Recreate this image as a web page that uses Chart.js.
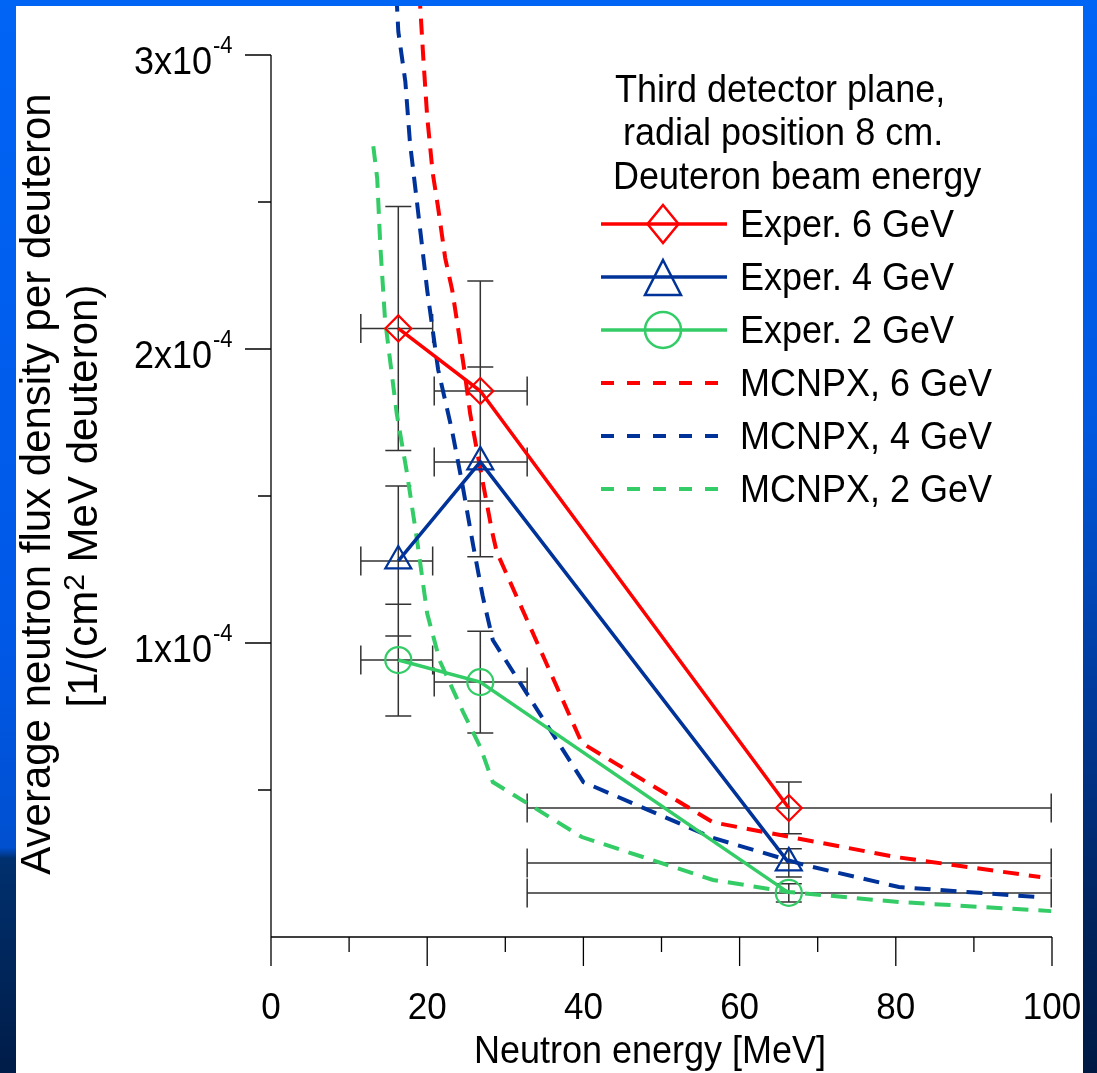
<!DOCTYPE html>
<html>
<head>
<meta charset="utf-8">
<script src="https://cdn.jsdelivr.net/npm/chart.js@4.4.0/dist/chart.umd.min.js"></script>
<style>
  html, body { margin: 0; padding: 0; }
  body {
    width: 1097px; height: 1073px; overflow: hidden; position: relative;
    background: linear-gradient(to bottom, #0064f5 0%, #0058e0 40%, #003a9a 65%, #00245e 85%, #001a44 100%);
  }
  #leftStrip {
    position: absolute; left: 0; top: 0; width: 16px; height: 1073px;
    background: linear-gradient(to bottom, #0064f5 0%, #0058e6 60%, #0050d0 79%, #00306e 80%, #001c48 100%);
  }
  #panel { position: absolute; left: 16px; top: 6px; width: 1067px; height: 1067px; background: #fff; }
  canvas { display: block; }
</style>
</head>
<body>
<div id="leftStrip"></div>
<div id="panel"><canvas id="chart" width="1067" height="1067"></canvas></div>
<script>
// experimental points (energy in MeV, flux in 1/(cm2 MeV deuteron))
const expEnergy = [16.3, 26.8, 66.3];
const expEnergyLow = [11.5, 20.9, 32.8];
const expEnergyHigh = [20.7, 32.8, 99.9];

const exp6Flux = [2.07e-4, 1.857e-4, 0.439e-4];
const exp6Err = [0.415e-4, 0.374e-4, 0.088e-4];
const exp4Flux = [1.279e-4, 1.616e-4, 0.252e-4];
const exp4Err = [0.255e-4, 0.323e-4, 0.048e-4];
const exp2Flux = [0.942e-4, 0.867e-4, 0.150e-4];
const exp2Err = [0.19e-4, 0.173e-4, 0.031e-4];

// MCNPX calculations
const mcnpx6Energy = [18.8, 19.5, 20.0, 20.7, 21.4, 22.3, 23.2, 23.9, 24.8, 25.5, 26.4, 27.1, 28.3, 28.9, 39.8, 56.6, 80.0, 98.5];
const mcnpx6Flux = [3.30e-4, 2.99e-4, 2.79e-4, 2.60e-4, 2.48e-4, 2.31e-4, 2.20e-4, 2.08e-4, 1.92e-4, 1.78e-4, 1.65e-4, 1.55e-4, 1.38e-4, 1.31e-4, 0.66e-4, 0.39e-4, 0.272e-4, 0.204e-4];
const mcnpx4Energy = [15.9, 16.3, 17.2, 17.8, 18.6, 20.0, 21.4, 23.2, 24.5, 25.9, 27.1, 28.4, 40.0, 56.6, 68.3, 80.4, 98.0];
const mcnpx4Flux = [3.29e-4, 3.08e-4, 2.91e-4, 2.70e-4, 2.52e-4, 2.20e-4, 1.93e-4, 1.72e-4, 1.54e-4, 1.33e-4, 1.16e-4, 1.01e-4, 0.527e-4, 0.337e-4, 0.245e-4, 0.170e-4, 0.136e-4];
const mcnpx2Energy = [13.1, 13.6, 14.0, 14.6, 16.1, 17.4, 18.7, 20.0, 21.6, 24.6, 26.8, 28.4, 39.8, 56.6, 66.3, 80.4, 99.9];
const mcnpx2Flux = [2.69e-4, 2.58e-4, 2.35e-4, 2.10e-4, 1.78e-4, 1.58e-4, 1.35e-4, 1.10e-4, 0.94e-4, 0.765e-4, 0.646e-4, 0.527e-4, 0.340e-4, 0.194e-4, 0.153e-4, 0.119e-4, 0.088e-4];

// axes
const xMajorTicks = [0, 20, 40, 60, 80, 100];
const xMinorTicks = [10, 30, 50, 70, 90];
const yMajorTicks = [1e-4, 2e-4, 3e-4];
const yTickMantissa = ["1", "2", "3"];
const yTickExponent = "-4";
const yMinorTicks = [0.5e-4, 1.5e-4, 2.5e-4];

const legendTitle = ["Third detector plane,", "radial position 8 cm.", "Deuteron beam energy"];
const xTitle = "Neutron energy [MeV]";
const yTitle1 = "Average neutron flux density per deuteron";

const RED = "#ff0000";
const BLUE = "#003399";
const GREEN = "#33cc66";
const FONT = '"Liberation Sans", Arial, sans-serif';

function toPoints(xs, ys) {
  return xs.map((x, i) => ({ x: x, y: ys[i] }));
}

function expSet(label, flux, color, style, radius) {
  return {
    label: label,
    data: toPoints(expEnergy, flux),
    showLine: true,
    borderColor: color,
    borderWidth: 3.5,
    pointStyle: style,
    pointRadius: radius,
    pointBorderWidth: 2.2,
    pointBorderColor: color,
    pointBackgroundColor: "rgba(0,0,0,0)",
    clip: false,
  };
}

function mcnpxSet(label, xs, ys, color) {
  return {
    label: label,
    data: toPoints(xs, ys),
    showLine: true,
    borderColor: color,
    borderWidth: 4,
    borderDash: [16, 10],
    pointRadius: 0,
    clip: false,
  };
}

// 文字を少し縦長にして描く
function stretchText(ctx, str, x, y, align) {
  ctx.save();
  ctx.translate(x, y);
  ctx.scale(1, 1.08);
  ctx.textAlign = align;
  ctx.fillText(str, 0, 0);
  ctx.restore();
}

const errorBars = [
  { flux: exp6Flux, err: exp6Err },
  { flux: exp4Flux, err: exp4Err },
  { flux: exp2Flux, err: exp2Err },
];

const framePlugin = {
  id: "frame",
  beforeDatasetsDraw(chart) {
    const ctx = chart.ctx;
    const xs = chart.scales.x;
    const ys = chart.scales.y;
    const x0 = xs.getPixelForValue(0);
    const y0 = ys.getPixelForValue(0);

    ctx.save();
    ctx.strokeStyle = "#000";
    ctx.lineWidth = 1.3;
    ctx.beginPath();
    // y axis
    ctx.moveTo(x0, ys.getPixelForValue(3e-4));
    ctx.lineTo(x0, y0 + 29);
    // x axis
    ctx.moveTo(x0, y0);
    ctx.lineTo(xs.getPixelForValue(100), y0);
    xMajorTicks.forEach((v) => {
      const px = xs.getPixelForValue(v);
      ctx.moveTo(px, y0);
      ctx.lineTo(px, y0 + 29);
    });
    xMinorTicks.forEach((v) => {
      const px = xs.getPixelForValue(v);
      ctx.moveTo(px, y0);
      ctx.lineTo(px, y0 + 15);
    });
    yMajorTicks.forEach((v) => {
      const py = ys.getPixelForValue(v);
      ctx.moveTo(x0 - 26, py);
      ctx.lineTo(x0, py);
    });
    yMinorTicks.forEach((v) => {
      const py = ys.getPixelForValue(v);
      ctx.moveTo(x0 - 13, py);
      ctx.lineTo(x0, py);
    });
    ctx.stroke();

    // error bars
    ctx.strokeStyle = "#333";
    ctx.lineWidth = 1.5;
    ctx.beginPath();
    errorBars.forEach((s) => {
      s.flux.forEach((f, i) => {
        const px = xs.getPixelForValue(expEnergy[i]);
        const py = ys.getPixelForValue(f);
        const top = ys.getPixelForValue(f + s.err[i]);
        const bot = ys.getPixelForValue(f - s.err[i]);
        ctx.moveTo(px, top);
        ctx.lineTo(px, bot);
        ctx.moveTo(px - 13, top);
        ctx.lineTo(px + 13, top);
        ctx.moveTo(px - 13, bot);
        ctx.lineTo(px + 13, bot);
        const l = xs.getPixelForValue(expEnergyLow[i]);
        const r = xs.getPixelForValue(expEnergyHigh[i]);
        ctx.moveTo(l, py);
        ctx.lineTo(r, py);
        ctx.moveTo(l, py - 14.5);
        ctx.lineTo(l, py + 14.5);
        ctx.moveTo(r, py - 14.5);
        ctx.lineTo(r, py + 14.5);
      });
    });
    ctx.stroke();
    ctx.restore();
  },
  afterDraw(chart) {
    const ctx = chart.ctx;
    const xs = chart.scales.x;
    const ys = chart.scales.y;
    const x0 = xs.getPixelForValue(0);
    const y0 = ys.getPixelForValue(0);
    ctx.save();
    ctx.fillStyle = "#000";
    ctx.textBaseline = "alphabetic";

    // y tick labels
    yMajorTicks.forEach((v, i) => {
      const py = ys.getPixelForValue(v);
      ctx.font = "36px " + FONT;
      stretchText(ctx, yTickMantissa[i] + "x10", x0 - 59, py + 18.5, "right");
      ctx.font = "22px " + FONT;
      stretchText(ctx, yTickExponent, x0 - 58, py - 2, "left");
    });

    // x tick labels
    ctx.font = "35px " + FONT;
    xMajorTicks.forEach((v) => {
      stretchText(ctx, String(v), xs.getPixelForValue(v), y0 + 82, "center");
    });

    // x title
    ctx.font = "36px " + FONT;
    stretchText(ctx, xTitle, 634, y0 + 126, "center");

    // y title (two rotated lines)
    ctx.save();
    ctx.translate(34, 478);
    ctx.rotate(-Math.PI / 2);
    ctx.font = "42px " + FONT;
    ctx.textAlign = "center";
    ctx.fillText(yTitle1, 0, 0);
    ctx.restore();

    ctx.save();
    ctx.translate(81, 490);
    ctx.rotate(-Math.PI / 2);
    ctx.textAlign = "left";
    const partA = "[1/(cm";
    const partSup = "2";
    const partB = " MeV deuteron)";
    ctx.font = "42px " + FONT;
    const wA = ctx.measureText(partA).width;
    const wB = ctx.measureText(partB).width;
    ctx.font = "30px " + FONT;
    const wS = ctx.measureText(partSup).width;
    let cx = -(wA + wS + wB) / 2;
    ctx.font = "42px " + FONT;
    ctx.fillText(partA, cx, 0);
    cx += wA;
    ctx.font = "30px " + FONT;
    ctx.fillText(partSup, cx, -13);
    cx += wS;
    ctx.font = "42px " + FONT;
    ctx.fillText(partB, cx, 0);
    ctx.restore();

    // legend
    ctx.font = "36px " + FONT;
    stretchText(ctx, legendTitle[0], 599, 96, "left");
    stretchText(ctx, legendTitle[1], 607, 139, "left");
    stretchText(ctx, legendTitle[2], 597, 183, "left");

    const sets = chart.data.datasets;
    sets.forEach((ds, k) => {
      const base = 231 + 53 * k;
      const ly = base - 13;
      ctx.save();
      ctx.strokeStyle = ds.borderColor;
      ctx.lineWidth = ds.borderWidth;
      if (ds.borderDash) ctx.setLineDash([13, 13]);
      ctx.beginPath();
      ctx.moveTo(585, ly);
      ctx.lineTo(ds.borderDash ? 704 : 711, ly);
      ctx.stroke();
      ctx.setLineDash([]);
      ctx.lineWidth = 2.5;
      ctx.beginPath();
      if (ds.pointStyle === "rectRot") {
        ctx.moveTo(647, ly - 19);
        ctx.lineTo(647 + 15.5, ly);
        ctx.lineTo(647, ly + 19);
        ctx.lineTo(647 - 15.5, ly);
        ctx.closePath();
        ctx.stroke();
      } else if (ds.pointStyle === "triangle") {
        ctx.moveTo(647, ly - 17);
        ctx.lineTo(647 + 18, ly + 18);
        ctx.lineTo(647 - 18, ly + 18);
        ctx.closePath();
        ctx.stroke();
      } else if (ds.pointStyle === "circle") {
        ctx.arc(647, ly, 18, 0, Math.PI * 2);
        ctx.stroke();
      }
      ctx.restore();
      ctx.font = "36px " + FONT;
      stretchText(ctx, ds.label, 724, base, "left");
    });
    ctx.restore();
  },
};

new Chart(document.getElementById("chart"), {
  type: "scatter",
  data: {
    datasets: [
      expSet("Exper. 6 GeV", exp6Flux, RED, "rectRot", 13),
      expSet("Exper. 4 GeV", exp4Flux, BLUE, "triangle", 15),
      expSet("Exper. 2 GeV", exp2Flux, GREEN, "circle", 13),
      mcnpxSet("MCNPX, 6 GeV", mcnpx6Energy, mcnpx6Flux, RED),
      mcnpxSet("MCNPX, 4 GeV", mcnpx4Energy, mcnpx4Flux, BLUE),
      mcnpxSet("MCNPX, 2 GeV", mcnpx2Energy, mcnpx2Flux, GREEN),
    ],
  },
  options: {
    responsive: false,
    animation: false,
    devicePixelRatio: 1,
    layout: { padding: { left: 255, right: 31, top: 49, bottom: 136 } },
    elements: { line: { tension: 0 } },
    scales: {
      x: { type: "linear", min: 0, max: 100, display: false },
      y: { type: "linear", min: 0, max: 3e-4, display: false },
    },
    plugins: {
      legend: { display: false },
      tooltip: { enabled: false },
    },
  },
  plugins: [framePlugin],
});
</script>
</body>
</html>
